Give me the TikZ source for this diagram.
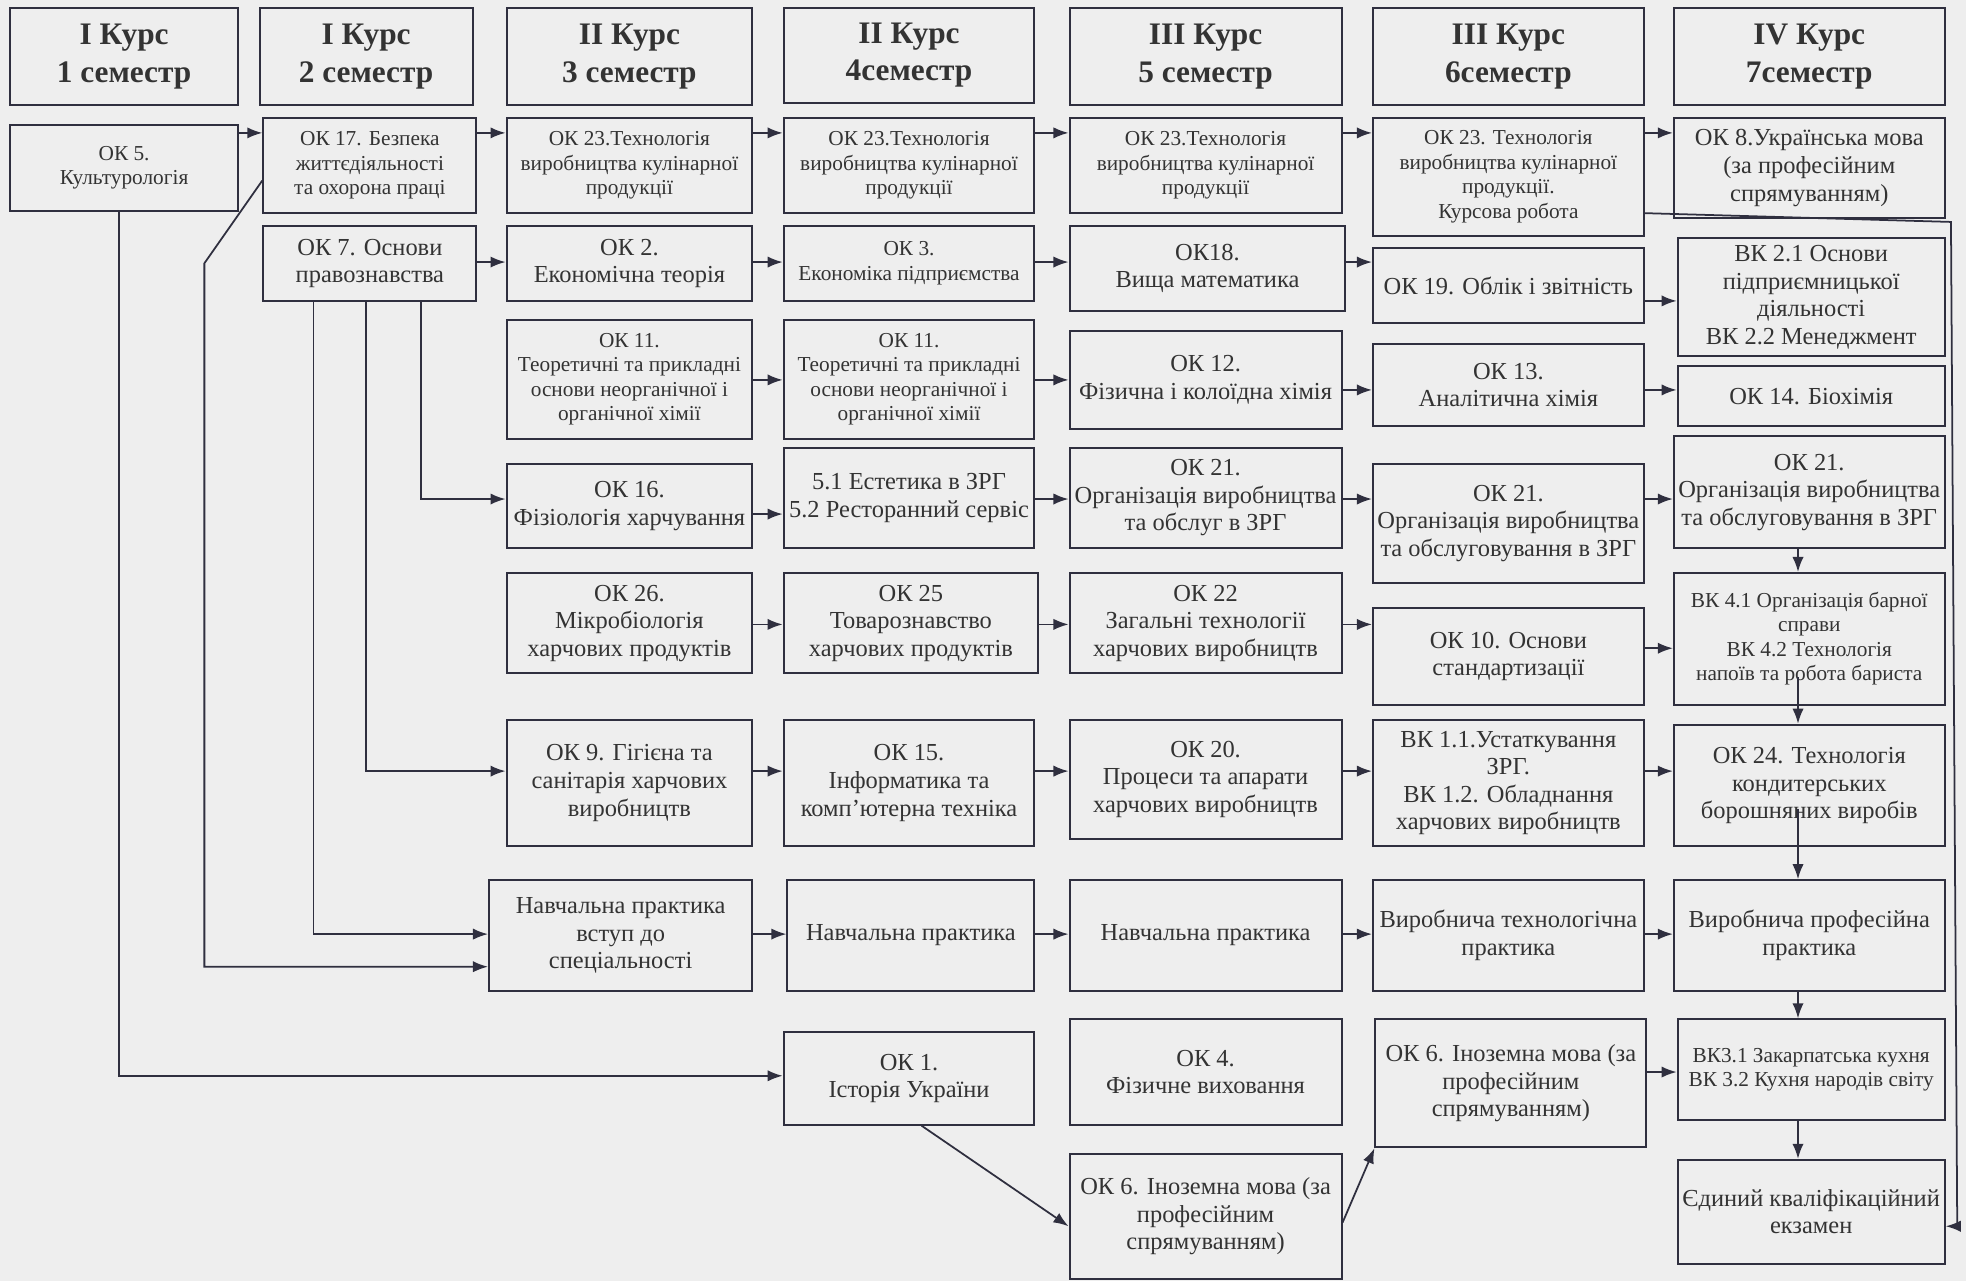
\documentclass[tikz,border=0pt]{standalone}
\usepackage{fontspec}
\setmainfont{Liberation Serif}
\usetikzlibrary{arrows.meta}

\definecolor{bg}{HTML}{EEEEEE}
\definecolor{ln}{HTML}{2F2F3F}
\definecolor{tx}{HTML}{333333}
\newcommand{\fsm}{\fontsize{17}{19.5}\selectfont}
\newcommand{\fmd}{\fontsize{19.5}{22}\selectfont}
\newcommand{\fhd}{\fontsize{25}{30}\selectfont\bfseries}

\begin{document}
\begin{tikzpicture}[x=1pt,y=-1pt,>={Latex[length=12pt,width=9pt]},
  box/.style={draw=ln,line width=1.6pt,align=center,inner sep=2pt,text=tx},
  sz/.style 2 args={minimum width=#1pt,minimum height=#2pt},
  con/.style={draw=ln,line width=1.4pt},
  every edge/.style={con}]
  \useasboundingbox (0,0) rectangle (1568,1022);
  \fill[bg] (0,0) rectangle (1568,1022);

  % semesters
  \node[box,sz={182}{78},font=\fhd] (h1) at (99,45) {I Курс\\1 семестр};
  \node[box,sz={170}{78},font=\fhd] (h2) at (292,45) {I Курс\\2 семестр};
  \node[box,sz={196}{78},font=\fhd] (h3) at (502,45) {II Курс\\3 семестр};
  \node[box,sz={200}{76},font=\fhd] (h4) at (725,44) {II Курс\\4семестр};
  \node[box,sz={217}{78},font=\fhd] (h5) at (961.5,45) {III Курс\\5 семестр};
  \node[box,sz={216}{78},font=\fhd] (h6) at (1203,45) {III Курс\\6семестр};
  \node[box,sz={216}{78},font=\fhd] (h7) at (1443,45) {IV Курс\\7семестр};

  % disciplines
  \node[box,sz={182}{68},font=\fsm] (ok5) at (99,134) {ОК 5.\\Культурологія};
  \node[box,sz={170}{76},font=\fsm] (ok17) at (295,132) {ОК 17. Безпека\\життєдіяльності\\та охорона праці};
  \node[box,sz={196}{76},font=\fsm] (okA3) at (502,132) {ОК 23.Технологія\\виробництва кулінарної\\продукції};
  \node[box,sz={200}{76},font=\fsm] (okA4) at (725,132) {ОК 23.Технологія\\виробництва кулінарної\\продукції};
  \node[box,sz={217}{76},font=\fsm] (okA5) at (961.5,132) {ОК 23.Технологія\\виробництва кулінарної\\продукції};
  \node[box,sz={216}{94},font=\fsm] (okA6) at (1203,141) {ОК 23. Технологія\\виробництва кулінарної\\продукції.\\Курсова робота};
  \node[box,sz={216}{80},font=\fmd] (ok8) at (1443,134) {ОК 8.Українська мова\\(за професійним\\спрямуванням)};

  \node[box,sz={170}{60},font=\fmd] (ok7) at (295,210) {ОК 7. Основи\\правознавства};
  \node[box,sz={196}{60},font=\fmd] (ok2) at (502,210) {ОК 2.\\Економічна теорія};
  \node[box,sz={200}{60},font=\fsm] (ok3) at (725,210) {ОК 3.\\Економіка підприємства};
  \node[box,sz={220}{68},font=\fmd] (ok18) at (963,214) {ОК18.\\Вища математика};
  \node[box,sz={216}{60},font=\fmd] (ok19) at (1203,228) {ОК 19. Облік і звітність};
  \node[box,sz={213}{94},font=\fmd] (vk2) at (1444.5,237) {ВК 2.1 Основи\\підприємницької\\діяльності\\ВК 2.2 Менеджмент};

  \node[box,sz={196}{95},font=\fsm] (ok11a) at (502,302.5) {ОК 11.\\Теоретичні та прикладні\\основи неорганічної і\\органічної хімії};
  \node[box,sz={200}{95},font=\fsm] (ok11b) at (725,302.5) {ОК 11.\\Теоретичні та прикладні\\основи неорганічної і\\органічної хімії};
  \node[box,sz={217}{78},font=\fmd] (ok12) at (961.5,303) {ОК 12.\\Фізична і колоїдна хімія};
  \node[box,sz={216}{66},font=\fmd] (ok13) at (1203,307) {ОК 13.\\Аналітична хімія};
  \node[box,sz={213}{48},font=\fmd] (ok14) at (1444.5,316) {ОК 14. Біохімія};

  \node[box,sz={196}{67},font=\fmd] (ok16) at (502,403.5) {ОК 16.\\Фізіологія харчування};
  \node[box,sz={200}{80},font=\fmd] (es) at (725,397) {5.1 Естетика в ЗРГ\\5.2 Ресторанний сервіс};
  \node[box,sz={217}{80},font=\fmd] (ok21a) at (961.5,397) {ОК 21.\\Організація виробництва\\та обслуг в ЗРГ};
  \node[box,sz={216}{95},font=\fmd] (ok21b) at (1203,417.5) {ОК 21.\\Організація виробництва\\та обслуговування в ЗРГ};
  \node[box,sz={216}{89},font=\fmd] (ok21c) at (1443,392.5) {ОК 21.\\Організація виробництва\\та обслуговування в ЗРГ};

  \node[box,sz={196}{80},font=\fmd] (ok26) at (502,497) {ОК 26.\\Мікробіологія\\харчових продуктів};
  \node[box,sz={203}{80},font=\fmd] (ok25) at (726.5,497) {ОК 25\\Товарознавство\\харчових продуктів};
  \node[box,sz={217}{80},font=\fmd] (ok22) at (961.5,497) {ОК 22\\Загальні технології\\харчових виробництв};
  \node[box,sz={216}{77},font=\fmd] (ok10) at (1203,523.5) {ОК 10. Основи\\стандартизації};
  \node[box,sz={216}{105},font=\fsm] (vk4) at (1443,509.5) {ВК 4.1 Організація барної\\справи\\ВК 4.2 Технологія\\напоїв та робота бариста};

  \node[box,sz={196}{101},font=\fmd] (ok9) at (502,624.5) {ОК 9. Гігієна та\\санітарія харчових\\виробництв};
  \node[box,sz={200}{101},font=\fmd] (ok15) at (725,624.5) {ОК 15.\\Інформатика та\\комп’ютерна техніка};
  \node[box,sz={217}{95},font=\fmd] (ok20) at (961.5,621.5) {ОК 20.\\Процеси та апарати\\харчових виробництв};
  \node[box,sz={216}{101},font=\fmd] (vk1) at (1203,624.5) {ВК 1.1.Устаткування\\ЗРГ.\\ВК 1.2. Обладнання\\харчових виробництв};
  \node[box,sz={216}{97},font=\fmd] (ok24) at (1443,626.5) {ОК 24. Технологія\\кондитерських\\борошняних виробів};

  \node[box,sz={210}{88},font=\fmd] (pr1) at (495,746) {Навчальна практика\\вступ до\\спеціальності};
  \node[box,sz={197}{88},font=\fmd] (pr2) at (726.5,746) {Навчальна практика};
  \node[box,sz={217}{88},font=\fmd] (pr3) at (961.5,746) {Навчальна практика};
  \node[box,sz={216}{88},font=\fmd] (pr4) at (1203,746) {Виробнича технологічна\\практика};
  \node[box,sz={216}{88},font=\fmd] (pr5) at (1443,746) {Виробнича професійна\\практика};

  \node[box,sz={200}{74},font=\fmd] (ok1) at (725,860) {ОК 1.\\Історія України};
  \node[box,sz={217}{84},font=\fmd] (ok4) at (961.5,855) {ОК 4.\\Фізичне виховання};
  \node[box,sz={216}{102},font=\fmd] (ok6b) at (1205,864) {ОК 6. Іноземна мова (за\\професійним\\спрямуванням)};
  \node[box,sz={213}{80},font=\fsm] (vk3) at (1444.5,853) {ВК3.1 Закарпатська кухня\\ВК 3.2 Кухня народів світу};
  \node[box,sz={217}{100},font=\fmd] (ok6a) at (961.5,970) {ОК 6. Іноземна мова (за\\професійним\\спрямуванням)};
  \node[box,sz={213}{83},font=\fmd] (exam) at (1444.5,966.5) {Єдиний кваліфікаційний\\екзамен};

  % levels of the connectors
  \coordinate (r1) at (0,106);  \coordinate (r2) at (0,209);
  \coordinate (r2b) at (0,240); \coordinate (r3) at (0,303);
  \coordinate (r3b) at (0,311); \coordinate (r4) at (0,398);
  \coordinate (r4a) at (0,410); \coordinate (r5) at (0,498);
  \coordinate (r5b) at (0,517); \coordinate (r6) at (0,615);
  \coordinate (r7) at (0,745);  \coordinate (r7b) at (0,771);
  \coordinate (r8) at (0,855);  \coordinate (r8a) at (0,858);
  \coordinate (r9) at (0,978);  \coordinate (r9c) at (0,975);
  \coordinate (c1) at (95,0);   \coordinate (c7) at (1434,0);
  \coordinate (b1) at (250,0);  \coordinate (b2) at (292,0);
  \coordinate (b3) at (336,0);
  \coordinate (k1) at (163,210);
  \coordinate (v4) at (1434,540); \coordinate (v24) at (1434,645);
  \coordinate (q1) at (1556,177); \coordinate (q2) at (1561,978);

  \path[->]
    (ok5.east |- r1) edge (ok17.west |- r1)
    (ok17.east |- r1) edge (okA3.west |- r1)
    (okA3.east |- r1) edge (okA4.west |- r1)
    (okA4.east |- r1) edge (okA5.west |- r1)
    (okA5.east |- r1) edge (okA6.west |- r1)
    (okA6.east |- r1) edge (ok8.west |- r1)
    (ok7.east |- r2) edge (ok2.west |- r2)
    (ok2.east |- r2) edge (ok3.west |- r2)
    (ok3.east |- r2) edge (ok18.west |- r2)
    (ok18.east |- r2) edge (ok19.west |- r2)
    (ok19.east |- r2b) edge (vk2.west |- r2b)
    (ok11a.east |- r3) edge (ok11b.west |- r3)
    (ok11b.east |- r3) edge (ok12.west |- r3)
    (ok12.east |- r3b) edge (ok13.west |- r3b)
    (ok13.east |- r3b) edge (ok14.west |- r3b)
    (ok16.east |- r4a) edge (es.west |- r4a)
    (es.east |- r4) edge (ok21a.west |- r4)
    (ok21a.east |- r4) edge (ok21b.west |- r4)
    (ok21b.east |- r4) edge (ok21c.west |- r4)
    (ok26.east |- r5) edge (ok25.west |- r5)
    (ok25.east |- r5) edge (ok22.west |- r5)
    (ok22.east |- r5) edge (ok10.west |- r5)
    (ok10.east |- r5b) edge (vk4.west |- r5b)
    (ok9.east |- r6) edge (ok15.west |- r6)
    (ok15.east |- r6) edge (ok20.west |- r6)
    (ok20.east |- r6) edge (vk1.west |- r6)
    (vk1.east |- r6) edge (ok24.west |- r6)
    (pr1.east |- r7) edge (pr2.west |- r7)
    (pr2.east |- r7) edge (pr3.west |- r7)
    (pr3.east |- r7) edge (pr4.west |- r7)
    (pr4.east |- r7) edge (pr5.west |- r7)
    (ok6b.east |- r8) edge (vk3.west |- r8);

  % fourth year column
  \path[->]
    (ok21c.south -| c7) edge (vk4.north -| c7)
    (v4) edge (ok24.north -| c7)
    (v24) edge (pr5.north -| c7)
    (pr5.south -| c7) edge (vk3.north -| c7)
    (vk3.south -| c7) edge (exam.north -| c7);

  % long links
  \draw[->,con] (ok5.south -| c1) |- (ok1.west |- r8a);
  \draw[->,con] ([yshift=-12pt]ok17.west) -- (k1) |- (pr1.west |- r7b);
  \draw[->,con] (ok7.south -| b3) |- (ok16.west |- r4);
  \draw[->,con] (ok7.south -| b2) |- (ok9.west |- r6);
  \draw[->,con] (ok7.south -| b1) |- (pr1.west |- r7);
  \draw[->,con] ([xshift=10pt]ok1.south) -- (ok6a.west |- r9);
  \draw[->,con] (ok6a.east |- r9c) -- (ok6b.south west);
  \draw[->,con] ([yshift=-29pt]okA6.east) -- (q1) -- (q2) -- (exam.east |- q2);
\end{tikzpicture}
\end{document}
